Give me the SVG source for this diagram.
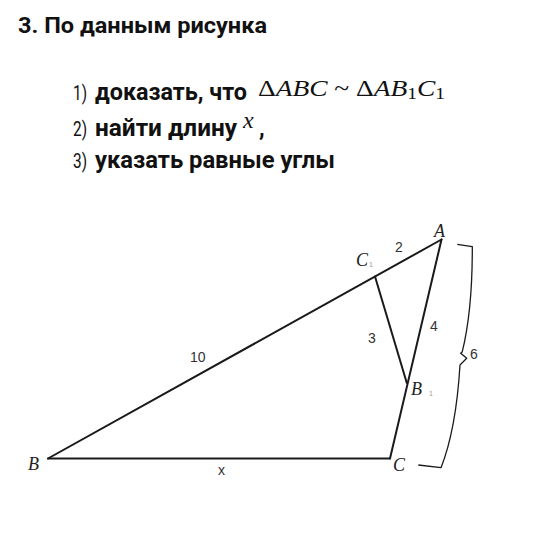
<svg xmlns="http://www.w3.org/2000/svg" width="549" height="538" viewBox="0 0 549 538">
<style>
.bg{fill:#ffffff}
.title{font-family:Roboto,"Liberation Sans",sans-serif;font-weight:700;font-size:22px;fill:#111}
.num{font-family:Roboto,"Liberation Sans",sans-serif;font-weight:400;font-size:21px;fill:#111}
.item{font-family:Roboto,"Liberation Sans",sans-serif;font-weight:700;font-size:23px;fill:#111}
.math{font-family:"Liberation Serif",serif;font-size:24px;fill:#111}
.mi{font-style:italic}
.edge{stroke:#1a1a1a;stroke-width:2;fill:none;stroke-linecap:round}
.brace{stroke:#1a1a1a;stroke-width:1.3;fill:none;stroke-linejoin:round}
.vlab{font-family:"Liberation Serif",serif;font-style:italic;font-size:18px;fill:#222}
.sub{font-family:"Liberation Sans",sans-serif;font-size:7px;fill:#999}
.len{font-family:"Liberation Sans",sans-serif;font-size:14px;fill:#333}
</style>
<rect class="bg" x="0" y="0" width="549" height="538"/>
<g id="task">
<text class="title" x="18" y="33" textLength="249" lengthAdjust="spacingAndGlyphs">3. По данным рисунка</text>
<text class="num" x="73" y="100" textLength="14" lengthAdjust="spacingAndGlyphs">1)</text>
<text class="item" x="95" y="100" textLength="152" lengthAdjust="spacingAndGlyphs">доказать, что</text>
<text class="math" x="258" y="96" textLength="187" lengthAdjust="spacingAndGlyphs">Δ<tspan class="mi">ABC</tspan> ~ Δ<tspan class="mi">AB</tspan><tspan font-size="17" dy="3">1</tspan><tspan class="mi" dy="-3">C</tspan><tspan font-size="17" dy="3">1</tspan></text>
<text class="num" x="73" y="136" textLength="14" lengthAdjust="spacingAndGlyphs">2)</text>
<text class="item" x="95" y="136" textLength="142" lengthAdjust="spacingAndGlyphs">найти длину</text>
<text class="math mi" x="243" y="128" font-size="22">x</text>
<text class="item" x="259" y="136">,</text>
<text class="num" x="73" y="168" textLength="14" lengthAdjust="spacingAndGlyphs">3)</text>
<text class="item" x="95" y="168" textLength="240" lengthAdjust="spacingAndGlyphs">указать равные углы</text>
</g>
<g id="connectors">
<line class="edge" x1="48" y1="458.5" x2="441.5" y2="239.5"/>
<line class="edge" x1="48" y1="458.5" x2="390" y2="458.5"/>
<line class="edge" x1="390" y1="458.5" x2="441.5" y2="239.5"/>
<line class="edge" x1="375" y1="276.5" x2="406.8" y2="383"/>
<path class="brace" d="M457.3,244.3 L472.3,246.7 Q472.5,310 462.3,351.7 L460.7,353.3 L466.7,358.3 L460,365 Q456,430 441,467.7 L418.3,465"/>
</g>
<g id="node-A"><text class="vlab" x="434" y="237">A</text></g>
<g id="node-C1"><text class="vlab" x="356" y="266">C</text><text class="sub" x="369" y="267">1</text></g>
<g id="node-B1"><text class="vlab" x="411" y="395">B</text><text class="sub" x="429" y="396">1</text></g>
<g id="node-C"><text class="vlab" x="393" y="471">C</text></g>
<g id="node-B"><text class="vlab" x="28" y="470">B</text></g>
<g id="labels">
<text class="len" x="395" y="252">2</text>
<text class="len" x="430" y="331">4</text>
<text class="len" x="368" y="343">3</text>
<text class="len" x="470" y="359">6</text>
<text class="len" x="190" y="362">10</text>
<text class="len" x="218" y="475">x</text>
</g>
</svg>
